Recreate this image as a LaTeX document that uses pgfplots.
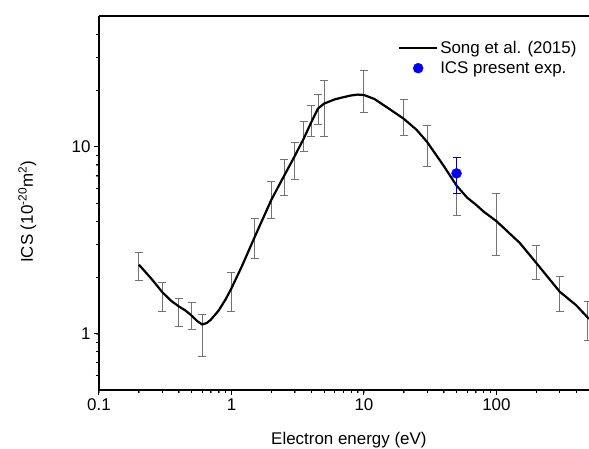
\documentclass[border=0pt]{standalone}
\usepackage{fontspec}
\setmainfont{Liberation Sans}
\usepackage{pgfplots}
\pgfplotsset{compat=1.18}
\usepackage{pgfplotstable}

\definecolor{bargray}{RGB}{115,115,115}

% Song et al. (2015) recommended ICS
\pgfplotstableread{
x y
0.2 2.34
0.25 1.96
0.3 1.67
0.35 1.50
0.4 1.40
0.45 1.33
0.5 1.25
0.55 1.17
0.6 1.12
0.65 1.14
0.7 1.19
0.8 1.33
0.9 1.52
1.0 1.75
1.2 2.3
1.5 3.3
2.0 5.2
2.5 7.0
3.0 8.9
3.5 11.0
4.0 13.5
4.5 16.0
5.0 17.0
6 17.9
7 18.4
8 18.8
9 19.0
10 18.9
12 18.0
15 16.2
20 14.1
25 12.3
30 10.6
40 7.9
50 6.2
60 5.35
70 4.9
80 4.5
100 4.0
150 3.06
200 2.39
300 1.68
400 1.42
500 1.2
}\songcurve

% uncertainty bars of the recommended values
\pgfplotstableread{
x y err
0.2 2.33 0.40
0.3 1.595 0.275
0.4 1.325 0.225
0.5 1.265 0.205
0.6 1.01 0.25
1.0 1.72 0.40
1.5 3.32 0.80
2.0 5.32 1.20
2.5 7.03 1.53
3.0 8.6 1.9
3.5 11.57 2.13
4.0 14.0 2.6
4.5 16.05 2.95
5.0 17.0 5.7
10 20.5 5.2
20 14.75 3.25
30 10.43 2.58
50 6.55 2.25
100 4.11 1.49
200 2.45 0.51
300 1.67 0.35
490 1.205 0.285
}\songbars

\begin{document}
\begin{tikzpicture}
\begin{axis}[
    name=ax,
    xmode=log, ymode=log,
    width=490bp, height=374bp, scale only axis,
    xmin=0.1, xmax=500, ymin=0.5, ymax=50,
    axis x line=box, axis y line=left,
    axis line style={-, line width=1.1bp},
    tick pos=left, tick align=outside,
    major tick length=5bp,
    every major tick/.style={black, line width=1bp},
    xtick={0.1,1,10,100}, xticklabels={0.1,1,10,100},
    ytick={1,10}, yticklabels={1,10},
    % minor ticks drawn as unlabelled extra ticks
    extra x ticks={0.2,0.3,0.4,0.5,0.6,0.7,0.8,0.9,2,3,4,5,6,7,8,9,20,30,40,50,60,70,80,90,200,300,400},
    extra x tick labels={},
    extra y ticks={0.6,0.7,0.8,0.9,2,3,4,5,6,7,8,9,20,30,40},
    extra y tick labels={},
    extra tick style={major tick length=3.5bp, every major tick/.style={black, line width=0.9bp}},
    tick label style={font=\fontsize{17}{20}\selectfont},
    xlabel={Electron energy (eV)},
    ylabel={ICS (10\textsuperscript{-20}m\textsuperscript{2})},
    every axis x label/.style={at={(axis description cs:0.51,0)}, anchor=base,
        yshift=-54bp, font=\fontsize{17}{20}\selectfont},
    every axis y label/.style={at={(axis description cs:-0.1347,0.476)}, rotate=90,
        anchor=base, font=\fontsize{17}{20}\selectfont},
    legend style={draw=none, fill=none, at={(0.985,0.945)}, anchor=north east,
        font=\fontsize{17}{20}\selectfont, row sep=3bp},
    legend cell align=left,
    legend image code/.code={\draw[mark repeat=2, mark phase=2, #1]
        plot coordinates {(0bp,0bp) (19bp,0bp) (38bp,0bp)};},
]
\addplot[bargray, draw=none, forget plot, mark=none,
    error bars/.cd, y dir=both, y explicit,
    error bar style={bargray, line width=0.9bp},
    error mark options={bargray, line width=0.9bp, mark size=4bp, rotate=90}]
    table[x=x, y=y, y error=err] {\songbars};
\addplot[black, line width=2.2bp, line join=round, mark=none] table[x=x, y=y] {\songcurve};
\addlegendentry{Song et al. (2015)}
\addplot[only marks, mark=*, mark size=5bp, blue, draw=blue, fill=blue,
    error bars/.cd, y dir=both, y explicit,
    error bar style={blue!70!black, line width=0.9bp},
    error mark options={blue!70!black, line width=0.9bp, mark size=4bp, rotate=90}]
    coordinates {(50,7.2) +- (0,1.6)};
\addlegendentry{ICS present exp.}
\end{axis}
\pgfresetboundingbox
\path[use as bounding box] ([xshift=-99bp,yshift=-58bp]ax.south west) rectangle ([yshift=16bp]ax.north east);
\end{tikzpicture}
\end{document}
